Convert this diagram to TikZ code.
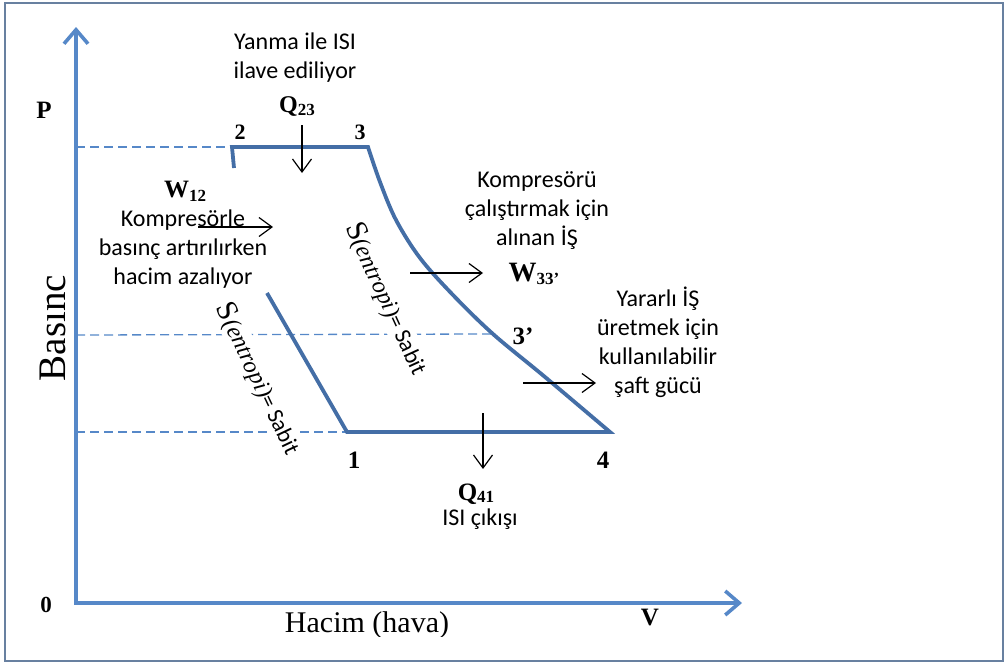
\documentclass[tikz,border=0pt]{standalone}
\usepackage{fontspec}
\setmainfont{Liberation Serif}
\newfontfamily\notefont{Carlito}
\usetikzlibrary{arrows.meta}
\definecolor{axisblue}{RGB}{86,136,200}
\definecolor{cycleblue}{RGB}{68,110,166}
\definecolor{framegray}{RGB}{104,128,160}
\newcommand\lowsub[2][-4pt]{\raisebox{#1}{\fontsize{17}{17}\selectfont #2}}
\begin{document}
\begin{tikzpicture}[x=1pt,y=-1pt,
  axisline/.style={draw=axisblue,line width=3.6pt,
    {Straight Barb[length=14pt,width=24pt]}-{Straight Barb[length=14pt,width=24pt]}},
  guide/.style={draw=axisblue,line width=1.3pt,dash pattern=on 9pt off 5pt},
  process/.style={draw=cycleblue,line width=3.8pt},
  flow/.style={draw=black,line width=1.2pt,-{Straight Barb[length=13pt,width=19pt]}},
  note/.style={font=\notefont\fontsize{24}{29}\selectfont,align=center,inner sep=0pt},
  state/.style={font=\bfseries\fontsize{25}{25}\selectfont,inner sep=0pt},
  smallstate/.style={font=\bfseries\fontsize{22}{22}\selectfont,inner sep=0pt},
  entropy/.style={fill=white,inner sep=1pt},
]
\useasboundingbox (0,0) rectangle (1008,664);
% outer frame
\draw[framegray,line width=2pt] (5,3) rectangle (1003,661);

% axes
\coordinate (O) at (76,603);
\coordinate (ytip) at (76,27);
\coordinate (xtip) at (742,603);

% state points of the cycle
\coordinate (p1) at (347,432);
\coordinate (p2) at (232,147);
\coordinate (p2b) at (234,168);
\coordinate (p3) at (368,147);
\coordinate (p3p) at (493,334);
\coordinate (p4) at (610,432);
\coordinate (c1) at (267,293);

% pressure guide lines
\coordinate (g2) at (76,147);
\coordinate (g3) at (76,335);
\coordinate (g1) at (76,432);
\draw[guide] (g2) -- (p2);
\draw[guide] (g3) -- (p3p);
\draw[guide] (g1) -- (p1);

\draw[axisline] (ytip) -- (O) -- (xtip);

% axis labels
\node[state,font=\bfseries\fontsize{25}{25}\selectfont,anchor=base] (lP) at (44,118) {P};
\node[state,font=\bfseries\fontsize{23}{23}\selectfont] (l0) at (46,605) {0};
\node[state,font=\bfseries\fontsize{25}{25}\selectfont] (lV) at (650,617) {V};
\node[rotate=90,font=\fontsize{39}{39}\selectfont,inner sep=0pt] (lBas) at (53,328) {Basınc};
\begin{scope}
  \clip (250,590) rectangle (480,636);
  \node[font=\fontsize{30}{30}\selectfont,anchor=base,inner sep=0pt] (lHac) at (367,632) {Hacim (hava)};
\end{scope}

% isentropic labels
\node[entropy,rotate=-64.5] (sleft) at (258,379)
  {{\fontsize{30}{30}\selectfont S}{\fontsize{24}{24}\selectfont\itshape (entropi)}{\notefont\fontsize{23}{23}\selectfont= Sabit}};
\node[entropy,rotate=-65.4] (sright) at (386,299)
  {{\fontsize{30}{30}\selectfont S}{\fontsize{24}{24}\selectfont\itshape (entropi)}{\notefont\fontsize{23}{23}\selectfont= Sabit}};

% the cycle
\draw[process] (p2b) -- (p2) -- (p3)
  -- plot[smooth,tension=0.55] coordinates {(368,147) (380,182) (396,220) (420,258) (453,295) (493,334) (545,377) (610,432)}
  -- (p1) -- (c1);

% state numbers
\node[smallstate] (n2) at (240,132) {2};
\node[smallstate] (n3) at (360,132) {3};
\node[state] (n1) at (354,460) {1};
\node[state] (n4) at (603,460) {4};
\node[state] (n3p) at (523,336) {3’};

% heat input
\node[note] (tYanma) at (295,58) {Yanma ile ISI\\ilave ediliyor};
\node[state,font=\bfseries\fontsize{24}{24}\selectfont,anchor=base] (q23) at (297,112) {Q\lowsub[-3pt]{23}};
\coordinate (q23a) at (302,125);
\coordinate (q23b) at (302,173);
\draw[flow] (q23a) -- (q23b);

% compression work
\node[state,anchor=base] (w12) at (185,197) {W\lowsub{12}};
\node[note] (tKomp) at (183,249) {Kompresörle\\basınç artırılırken\\hacim azalıyor};
\coordinate (w12a) at (198,227);
\coordinate (w12b) at (273,227);
\draw[flow] (w12a) -- (w12b);

% turbine work driving the compressor
\node[note] (tKompu) at (537,211) {Kompresörü\\çalıştırmak için\\alınan İŞ};
\node[state,font=\bfseries\fontsize{28}{28}\selectfont,anchor=base] (w33) at (534,281) {W\lowsub[-3pt]{33’}};
\coordinate (w33a) at (410,273);
\coordinate (w33b) at (483,273);
\draw[flow] (w33a) -- (w33b);

% useful shaft work
\node[note] (tYarar) at (658,342) {Yararlı İŞ\\üretmek için\\kullanılabilir\\şaft gücü};
\coordinate (sha) at (523,383);
\coordinate (shb) at (596,383);
\draw[flow] (sha) -- (shb);

% heat rejection
\coordinate (q41a) at (483,413);
\coordinate (q41b) at (483,469);
\draw[flow] (q41a) -- (q41b);
\node[state,anchor=base] (q41) at (476,500) {Q\lowsub[-2pt]{41}};
\node[note] (tCikis) at (480,519) {ISI çıkışı};
\end{tikzpicture}
\end{document}
